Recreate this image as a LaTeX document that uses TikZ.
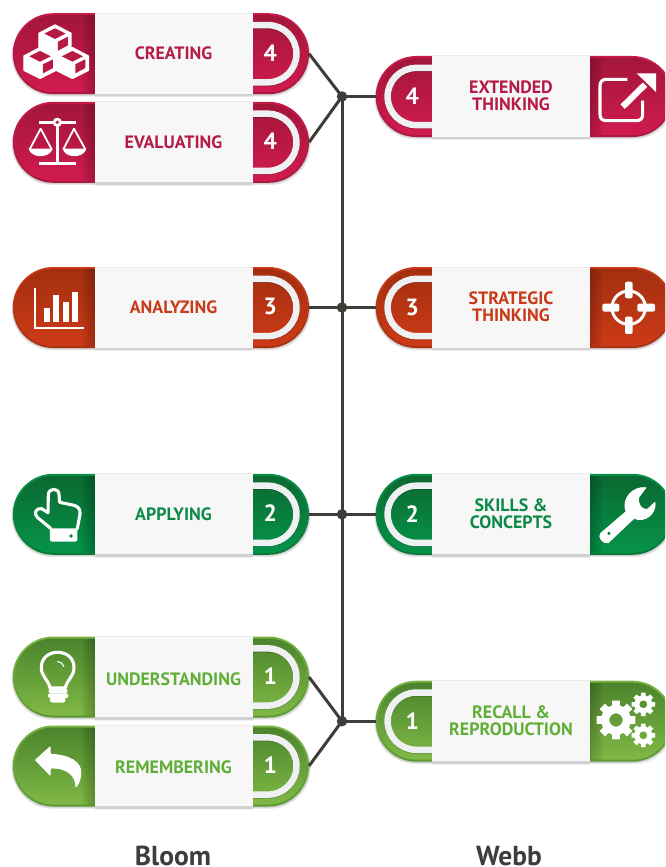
\documentclass[tikz,border=0pt]{standalone}
\usepackage{fontspec}
\setmainfont{PT Sans}
\definecolor{crTop}{HTML}{A3163A}\definecolor{crBot}{HTML}{D01B4F}\definecolor{crRimA}{HTML}{C71A4A}\definecolor{crRimB}{HTML}{AC183F}\definecolor{crTxt}{HTML}{B51B46}\definecolor{crMid}{HTML}{B81A45}
\definecolor{orTop}{HTML}{A32F10}\definecolor{orBot}{HTML}{CD3A17}\definecolor{orRimA}{HTML}{C83A17}\definecolor{orRimB}{HTML}{A93212}\definecolor{orTxt}{HTML}{C93A19}\definecolor{orMid}{HTML}{B73413}
\definecolor{dgTop}{HTML}{0B6932}\definecolor{dgBot}{HTML}{059449}\definecolor{dgRimA}{HTML}{069048}\definecolor{dgRimB}{HTML}{0A7A3C}\definecolor{dgTxt}{HTML}{0A8A45}\definecolor{dgMid}{HTML}{087E3E}
\definecolor{lgTop}{HTML}{4B842C}\definecolor{lgBot}{HTML}{80B945}\definecolor{lgRimA}{HTML}{77B341}\definecolor{lgRimB}{HTML}{5A9A33}\definecolor{lgTxt}{HTML}{5FAE36}\definecolor{lgMid}{HTML}{659E38}
\definecolor{wire}{HTML}{3F3D3A}\definecolor{ringc}{HTML}{EEF0F2}\definecolor{panelc}{HTML}{F7F7F8}
\tikzset{
  anchorbox/.style={rectangle,inner sep=0pt,outer sep=0pt},
  boxlabel/.style={inner sep=0pt,align=center,font=\fontsize{17.9}{16.8}\selectfont\bfseries},
  numlabel/.style={inner sep=0pt,text=white,font=\fontsize{23.5}{25}\selectfont\bfseries},
  wireline/.style={draw=wire,line width=3pt},
  hubdot/.style={circle,fill=wire,inner sep=0pt,minimum size=10.5pt},
  colhead/.style={inner sep=0pt,anchor=base,text=wire,font=\fontsize{27.5}{28}\selectfont\bfseries},
  icostroke/.style={draw=white,line width=3.1pt,line join=round,line cap=round},
  icon/.style={x=.33333pt,y=-.33333pt},
}
\newcommand\capsule[4]{%
  \foreach \k in {1,2,3}{\fill[black,opacity=.07,rounded corners=41pt] (#1-\k*.4,#3-40.5+\k*.6) rectangle (#2+\k*.6,#3+40.5+\k*.8);}
  \shade[top color=#4RimA,bottom color=#4RimB,rounded corners=40.5pt] (#1,#3-40.5) rectangle (#2,#3+40.5);
  \shade[top color=#4Top,bottom color=#4Bot,rounded corners=38.5pt] (#1+2,#3-38.5) rectangle (#2-2,#3+38.5);
}
\newcommand\whitepanel[2]{%
  \fill[black,opacity=.06] (#1,#2+41) rectangle (#1+158,#2+43.5);
  \fill[fill=black!18] (#1,#2-41) rectangle (#1+158,#2+42.5);
  \fill[panelc] (#1,#2-41) rectangle (#1+158,#2+40);
  \fill[black!8] (#1,#2-41) rectangle (#1+158,#2-40.3);
}
% #1 name, #2 cy, #3 colour, #4 label, #5 number, #6 label y
\newcommand\bloompill[6]{%
  \capsule{12.8}{309}{#2}{#3}
  \foreach \k in {1,...,6}{\fill[black,opacity=.035] (95-\k*2.2,#2-38.5) rectangle (95,#2+38.5);}
  \draw[black,opacity=.2,line width=6.5pt,rounded corners=28.6pt] (253,#2-27.8) -- (296.5,#2-27.8) -- (296.5,#2+29.4) -- (253,#2+29.4);
  \draw[ringc,line width=6.5pt,rounded corners=28.6pt] (253,#2-28.6) -- (296.5,#2-28.6) -- (296.5,#2+28.6) -- (253,#2+28.6);
  \whitepanel{95}{#2}
  \node[anchorbox,minimum width=296.2pt,minimum height=81pt] (#1) at (160.9,#2) {};
  \node[boxlabel,text=#3Txt] (#1-label) at (173.5,#6) {#4};
  \node[numlabel] (#1-num) at (270.3,#2-.7) {#5};
}
\newcommand\webbpill[5]{%
  \capsule{375.7}{673}{#2}{#3}
  \foreach \k in {1,...,6}{\fill[black,opacity=.03] (590,#2-38.5) rectangle (590+\k*2.2,#2+38.5);}
  \draw[black,opacity=.2,line width=6.5pt,rounded corners=28.6pt] (432,#2-27.8) -- (387.6,#2-27.8) -- (387.6,#2+29.4) -- (432,#2+29.4);
  \draw[ringc,line width=6.5pt,rounded corners=28.6pt] (432,#2-28.6) -- (387.6,#2-28.6) -- (387.6,#2+28.6) -- (432,#2+28.6);
  \whitepanel{432}{#2}
  \node[anchorbox,minimum width=297.3pt,minimum height=81pt] (#1) at (524.35,#2) {};
  \node[boxlabel,text=#3Txt] (#1-label) at (511,#2-.5) {#4};
  \node[numlabel] (#1-num) at (412.2,#2) {#5};
}
\newcommand\isocube[3]{%
  \fill[white,draw=white,line width=1.4pt,line join=round] (#1,#2) -- (#1+48,#2+25) -- (#1+48,#2+68) -- (#1,#2+92) -- (#1-48,#2+68) -- (#1-48,#2+25) -- cycle;
  \fill[#3] (#1,#2+10) -- (#1+32,#2+26) -- (#1,#2+42) -- (#1-32,#2+26) -- cycle;
  \fill[#3] (#1+9,#2+50) -- (#1+39,#2+35) -- (#1+39,#2+61) -- (#1+9,#2+77) -- cycle;
}
\newcommand\mygear[5]{%
  \fill[white,even odd rule] ([shift={(#1,#2)}]-11:#3)
    foreach \a in {0,45,...,315} { -- ([shift={(#1,#2)}]\a-11:#3) -- ([shift={(#1,#2)}]\a+11:#3) -- ([shift={(#1,#2)}]\a+15:#4) -- ([shift={(#1,#2)}]\a+30:#4) } -- cycle
    (#1,#2) circle[radius=#5];
}
\begin{document}
\begin{tikzpicture}[x=1pt,y=-1pt]
\useasboundingbox (0,0) rectangle (665,867);
\clip (0,0) rectangle (665,867);
\fill[white] (0,0) rectangle (665,867);

\bloompill{creating}{53.7}{cr}{CREATING}{4}{53.4}
\bloompill{evaluating}{142.3}{cr}{EVALUATING}{4}{142.4}
\bloompill{analyzing}{307.5}{or}{ANALYZING}{3}{307.3}
\bloompill{applying}{514.3}{dg}{APPLYING}{2}{514.2}
\bloompill{understanding}{677}{lg}{UNDERSTANDING}{1}{679.2}
\bloompill{remembering}{766}{lg}{REMEMBERING}{1}{767.2}

\webbpill{extended}{96.5}{cr}{EXTENDED\\THINKING}{4}
\webbpill{strategic}{307.5}{or}{STRATEGIC\\THINKING}{3}
\webbpill{skills}{514.3}{dg}{SKILLS \&\\CONCEPTS}{2}
\webbpill{recall}{721.2}{lg}{RECALL \&\\REPRODUCTION}{1}

\node[hubdot] (hubA) at (342,96.5) {};
\node[hubdot] (hubB) at (342,307.5) {};
\node[hubdot] (hubC) at (342,514.3) {};
\node[hubdot] (hubD) at (342,721.2) {};
\draw[wireline] (hubA.center) -- (hubB.center) -- (hubC.center) -- (hubD.center);
\draw[wireline] (creating.east) -- (hubA.center);
\draw[wireline] (evaluating.east) -- (hubA.center);
\draw[wireline] (extended.west) -- (hubA.center);
\draw[wireline] (analyzing.east) -- (hubB.center);
\draw[wireline] (strategic.west) -- (hubB.center);
\draw[wireline] (applying.east) -- (hubC.center);
\draw[wireline] (skills.west) -- (hubC.center);
\draw[wireline] (understanding.east) -- (hubD.center);
\draw[wireline] (remembering.east) -- (hubD.center);
\draw[wireline] (recall.west) -- (hubD.center);

\node[colhead] (bloomhead) at (173,865) {Bloom};
\node[colhead] (webbhead) at (509,865) {Webb};

% cubes
\begin{scope}[icon]
  \isocube{165}{75}{crMid}
  \isocube{120}{143}{crMid}
  \isocube{217}{143}{crMid}
\end{scope}
% scales
\begin{scope}[icon]
  \fill[white] (117,363) rectangle (228,373);
  \fill[white] (167.5,375) rectangle (176.5,490);
  \fill[white] (117,485) rectangle (228,495);
  \fill[white] (172,367) circle[radius=14];
  \fill[crMid] (172,367) circle[radius=5.5];
  \draw[white,line width=1.8pt,line join=round] (89,448) -- (122,386) -- (155,448);
  \draw[white,line width=1.8pt,line join=round] (190,448) -- (222,386) -- (256,448);
  \fill[white] (86,446) .. controls (92,476) and (150,476) .. (158,446) -- cycle;
  \fill[white] (188,446) .. controls (194,476) and (252,476) .. (259,446) -- cycle;
\end{scope}
% chart
\begin{scope}[shift={(0,260)},icon]
  \draw[white,line width=2pt] (104,84) -- (104,204) -- (253,204);
  \fill[white] (131,145) rectangle (150,185);
  \fill[white] (160,105) rectangle (178,185);
  \fill[white] (188,125) rectangle (206,185);
  \fill[white] (217,95) rectangle (235,185);
\end{scope}
% pointing hand
\begin{scope}[shift={(0,460)},icon]
  \draw[icostroke] (152,205) -- (112,172) .. controls (100,160) and (108,143) .. (125,146) -- (144,158) -- (145,103) .. controls (147,83) and (176,83) .. (177,103) -- (179,127) -- (222,136) .. controls (237,140) and (241,150) .. (240,162) -- (232,206);
  \fill[white,rounded corners=2pt] (150,205) rectangle (232,245);
  \fill[dgMid] (213,228) circle[radius=5.5];
\end{scope}
% bulb
\begin{scope}[shift={(0,460)},icon]
  \draw[icostroke] (150,684) .. controls (146,660) and (124,650) .. (124,623) .. controls (124,592) and (148,577) .. (173,577) .. controls (198,577) and (222,592) .. (222,623) .. controls (222,650) and (200,660) .. (196,684) -- cycle;
  \fill[white,rounded corners=2pt] (146,686) rectangle (202,700);
  \fill[white,rounded corners=2pt] (144,700) rectangle (205,714);
  \fill[white,rounded corners=3pt] (149,712) rectangle (197,728);
  \draw[white,line width=1.1pt] (172,604) .. controls (182,605) and (189,611) .. (192,620);
\end{scope}
% return arrow
\begin{scope}[shift={(0,460)},icon]
  \fill[white,line join=round,draw=white,line width=1pt] (107,900) -- (150,861) -- (151,883) .. controls (205,885) and (248,905) .. (242,945) .. controls (240,962) and (235,972) .. (228,980) .. controls (228,950) and (205,922) .. (151,924) -- (150,945) -- cycle;
\end{scope}
% external link
\begin{scope}[shift={(340,40)},icon]
  \draw[icostroke,line cap=butt] (862,118) -- (800,118) .. controls (786,118) and (780,125) .. (780,138) -- (780,222) .. controls (780,236) and (786,242) .. (800,242) -- (888,242) .. controls (902,242) and (908,236) .. (908,222) -- (908,182);
  \draw[white,line width=6.2pt] (848,200) -- (915,134);
  \fill[white] (948,100) -- (948,156) -- (890,100) -- cycle;
\end{scope}
% target
\begin{scope}[shift={(340,40)},icon]
  \draw[white,line width=3pt] (866,803) circle[radius=50];
  \fill[white,rounded corners=2pt] (855,725) rectangle (878,775);
  \fill[white,rounded corners=2pt] (855,830) rectangle (878,882);
  \fill[white,rounded corners=2pt] (787,791) rectangle (838,815);
  \fill[white,rounded corners=2pt] (892,791) rectangle (945,815);
\end{scope}
% wrench
\begin{scope}[shift={(340,460)},icon]
  \fill[white,line join=round,draw=white,line width=.8pt] (918,83) .. controls (880,78) and (843,115) .. (858,155) -- (782,220) .. controls (772,230) and (790,254) .. (805,248) -- (882,175) .. controls (915,190) and (950,160) .. (945,127) -- (922,148) .. controls (905,150) and (893,135) .. (896,112) -- cycle;
  \fill[dgMid] (807,220) circle[radius=5];
\end{scope}
% gears
\begin{scope}[shift={(340,460)},icon]
  \mygear{828}{780}{59}{45}{20}
  \mygear{910}{733}{36}{27}{12}
  \mygear{910}{826}{36}{27}{12}
\end{scope}
\end{tikzpicture}
\end{document}
